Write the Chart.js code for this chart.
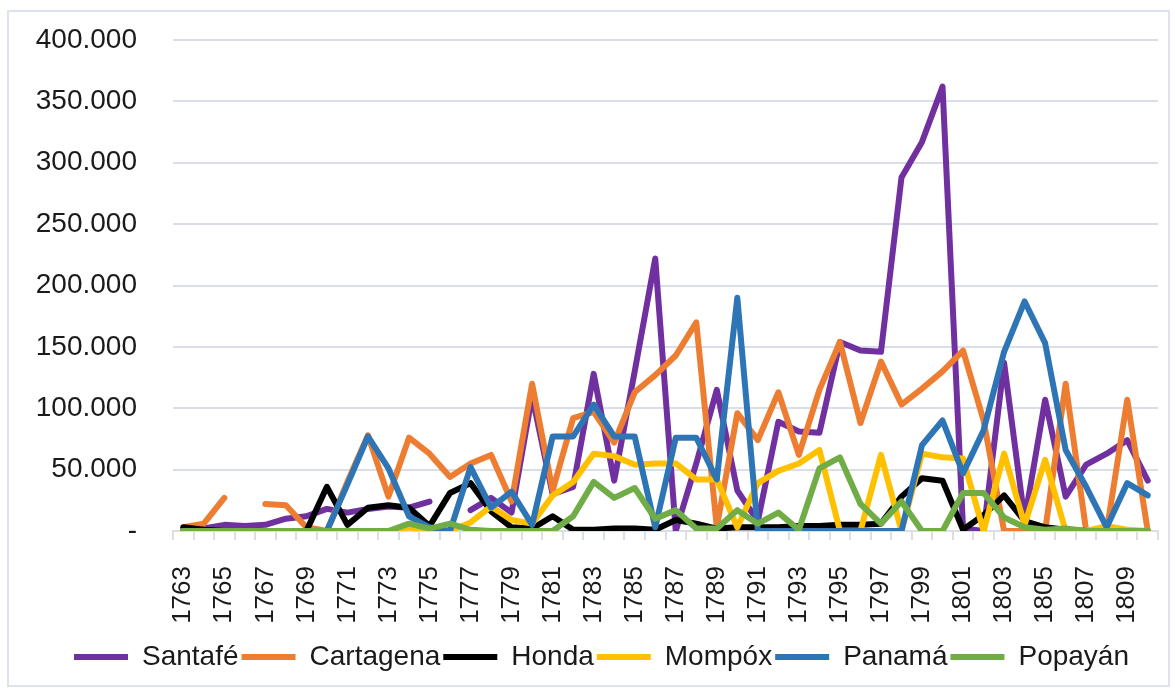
<!DOCTYPE html>
<html>
<head>
<meta charset="utf-8">
<script src="https://cdn.jsdelivr.net/npm/chart.js@4.4.1/dist/chart.umd.min.js"></script>
<style>
  body { margin: 0; background: #fff; }
  #frame { position: absolute; left: 7px; top: 10px; width: 1159px; height: 673px; border: 2px solid #dde3ec; }
  #myChart { position: absolute; left: 0; top: 0; }
</style>
</head>
<body>
<div id="frame"></div>
<canvas id="myChart" width="1175" height="689"></canvas>
<script>
// years on the category axis
const years = ['1763','1764','1765','1766','1767','1768','1769','1770','1771','1772','1773','1774',
  '1775','1776','1777','1778','1779','1780','1781','1782','1783','1784','1785','1786','1787','1788',
  '1789','1790','1791','1792','1793','1794','1795','1796','1797','1798','1799','1800','1801','1802',
  '1803','1804','1805','1806','1807','1808','1809','1810'];

// values in thousands
const santafe = [0,2,5,4,5,10,12,18,15,18,20,19,24,null,17,27,15,110,30,36,128,41,130,222,0,55,115,33,8,89,81,80,
  154,147,146,288,317,362,2,0,137,9,107,28,54,63,74,41];
const cartagena = [3,6,27,null,22,21,3,0,40,78,28,76,63,44,55,62,24,120,33,92,97,72,113,127,143,170,3,96,74,113,62,115,
  154,88,138,103,116,130,147,90,0,0,0,120,0,0,107,0];
const honda = [3,1,0,0,0,0,0,36,5,19,21,19,4,31,39,16,3,2,12,1,1,2,2,1,9,6,2,3,3,3,4,4,
  5,5,6,28,43,41,1,13,29,8,3,1,0,0,0,0];
const mompox = [0,0,0,0,0,0,0,0,0,0,0,3,0,0,7,20,9,6,29,40,63,61,54,55,55,42,42,3,39,49,55,66,
  0,0,62,0,63,60,59,0,63,5,58,0,0,4,1,0];
const panama = [0,0,0,0,0,0,0,0,38,77,51,12,3,0,52,19,32,5,77,77,103,77,77,3,76,76,42,190,0,0,0,0,
  0,0,0,0,70,90,47,82,146,187,153,66,36,3,39,29];
const popayan = [0,0,0,0,0,0,0,0,0,0,0,6,2,6,1,0,0,0,0,12,40,27,35,10,17,2,2,17,6,15,1,51,
  60,22,6,24,0,0,31,31,11,3,1,2,0,0,0,0];

const seriesNames = ['Santafé','Cartagena','Honda','Mompóx','Panamá','Popayán'];
const seriesColors = ['#7030A0','#ED7D31','#000000','#FFC000','#2E75B6','#70AD47'];
const seriesData = [santafe, cartagena, honda, mompox, panama, popayan];

const gridColor = '#d9dee8';
const fontFamily = '"Liberation Sans", Arial, sans-serif';

function initChart() {
    const ctx = document.getElementById('myChart');

    const datasets = seriesData.map((d, i) => ({
        label: seriesNames[i],
        data: d,
        borderColor: seriesColors[i],
        backgroundColor: seriesColors[i],
        borderWidth: 6,
        pointRadius: 0,
        tension: 0,
        borderJoinStyle: 'round',
        borderCapStyle: 'round',
        spanGaps: false,
        // later series on top, like the original
        order: seriesData.length - i
    }));

    new Chart(ctx, {
        type: 'line',
        data: { labels: years, datasets: datasets },
        options: {
            responsive: false,
            animation: false,
            layout: { padding: { left: 28, right: 0, top: 40, bottom: 8 } },
            scales: {
                x: {
                    offset: true,
                    grid: {
                        offset: true,
                        drawOnChartArea: false,
                        drawTicks: true,
                        tickLength: 9,
                        color: gridColor,
                        lineWidth: 2
                    },
                    border: { display: true, color: gridColor, width: 2 },
                    ticks: {
                        autoSkip: false,
                        maxRotation: 90,
                        minRotation: 90,
                        padding: 26,
                        color: '#1a1a1a',
                        font: { family: fontFamily, size: 26 },
                        callback: function (val, index) {
                            return index % 2 === 0 ? this.getLabelForValue(val) : '';
                        }
                    },
                    afterFit: (scale) => {
                        scale.height = 109;
                        scale.paddingLeft = 0;
                        scale.paddingRight = 0;
                    }
                },
                y: {
                    min: 0,
                    max: 400,
                    grid: { color: gridColor, lineWidth: 2, drawTicks: false },
                    border: { display: false },
                    ticks: {
                        stepSize: 50,
                        padding: 36,
                        color: '#1a1a1a',
                        font: { family: fontFamily, size: 28 },
                        callback: (v) => v === 0 ? '-' : v + '.000'
                    },
                    afterFit: (scale) => {
                        scale.width = 145;
                        scale.paddingTop = 0;
                        scale.paddingBottom = 0;
                    }
                },
                // empty right-hand space, keeps the legend centred like the original
                yRight: {
                    position: 'right',
                    grid: { display: false },
                    border: { display: false },
                    ticks: { display: false },
                    afterFit: (scale) => {
                        scale.width = 17;
                        scale.paddingTop = 0;
                        scale.paddingBottom = 0;
                    }
                }
            },
            plugins: {
                legend: {
                    display: true,
                    position: 'bottom',
                    labels: {
                        usePointStyle: true,
                        pointStyle: 'line',
                        pointStyleWidth: 54,
                        padding: 3,
                        color: '#1a1a1a',
                        font: { family: fontFamily, size: 28 },
                        sort: (a, b) => a.datasetIndex - b.datasetIndex
                    }
                },
                tooltip: { enabled: false }
            }
        }
    });
}

document.addEventListener('DOMContentLoaded', initChart);
</script>
</body>
</html>
